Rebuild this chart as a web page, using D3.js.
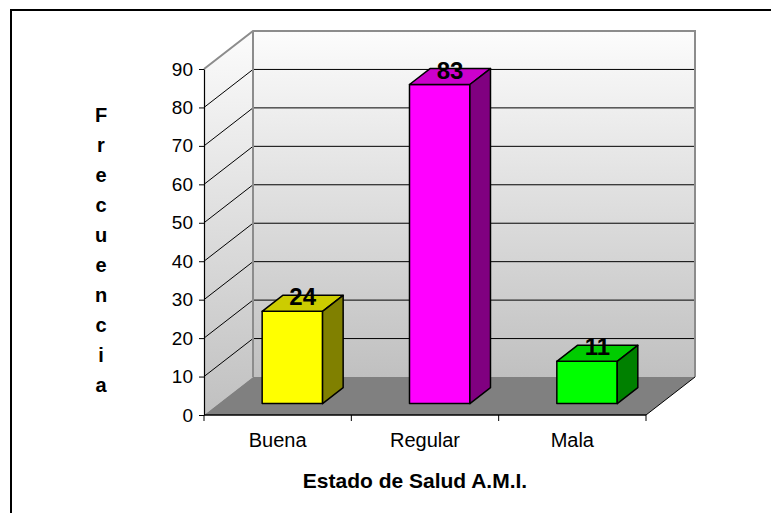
<!DOCTYPE html>
<html>
<head>
<meta charset="utf-8">
<script src="https://cdn.jsdelivr.net/npm/d3@7"></script>
<style>
  body { margin: 0; background: #fff; }
  text { font-family: "Liberation Sans", Arial, sans-serif; }
</style>
</head>
<body>
<svg id="chart" width="771" height="513"></svg>
<script>
// data
var categories = ["Buena", "Regular", "Mala"];
var values = [24, 83, 11];
var yTicks = [0, 10, 20, 30, 40, 50, 60, 70, 80, 90];
var frontColors = ["#ffff00", "#ff00ff", "#00ff00"];
var topColors = ["#cccc00", "#cc00cc", "#00cc00"];
var sideColors = ["#808000", "#800080", "#008000"];
var xTitle = "Estado de Salud A.M.I.";
var yTitle = "Frecuencia";

var svg = d3.select("#chart");

// front plane + depth vector (3d look)
var DX = 49, DY = -38;
var x = d3.scaleBand().domain(categories).range([204, 646]);
var y = d3.scaleLinear().domain([0, 90]).range([415, 69]);
var yMax = 90;

function pt(px, py, d) {
  return [px + d * DX, py + d * DY];
}
function poly(points) {
  return points.map(function(p) { return p[0] + "," + p[1]; }).join(" ");
}

// outer frame
svg.append("rect")
  .attr("x", 11).attr("y", 10)
  .attr("width", 800).attr("height", 600)
  .attr("fill", "none")
  .attr("stroke", "#000")
  .attr("stroke-width", 2);

// gradient for walls
var defs = svg.append("defs");
var grad = defs.append("linearGradient")
  .attr("id", "wallGrad")
  .attr("x1", 0).attr("y1", 0).attr("x2", 0).attr("y2", 1);
grad.append("stop").attr("offset", "0%").attr("stop-color", "#fcfcfc");
grad.append("stop").attr("offset", "100%").attr("stop-color", "#c0c0c0");

var x0 = x.range()[0], x1 = x.range()[1];

// back wall
svg.append("polygon")
  .attr("points", poly([pt(x0, y(yMax), 1), pt(x1, y(yMax), 1), pt(x1, y(0), 1), pt(x0, y(0), 1)]))
  .attr("fill", "url(#wallGrad)");

// side wall
svg.append("polygon")
  .attr("points", poly([pt(x0, y(yMax), 0), pt(x0, y(yMax), 1), pt(x0, y(0), 1), pt(x0, y(0), 0)]))
  .attr("fill", "url(#wallGrad)");

// floor
svg.append("polygon")
  .attr("points", poly([pt(x0, y(0), 0), pt(x1, y(0), 0), pt(x1, y(0), 1), pt(x0, y(0), 1)]))
  .attr("fill", "#808080");

// gridlines (side wall + back wall)
var grid = yTicks.filter(function(v) { return v > 0 && v < yMax; });
grid.forEach(function(v) {
  var a = pt(x0, y(v), 0), b = pt(x0, y(v), 1), c = pt(x1, y(v), 1);
  svg.append("polyline")
    .attr("points", poly([a, b, c]))
    .attr("fill", "none")
    .attr("stroke", "#000")
    .attr("stroke-width", 1);
});

// wall edges
svg.append("polyline")
  .attr("points", poly([pt(x0, y(yMax), 0), pt(x0, y(yMax), 1), pt(x1, y(yMax), 1), pt(x1, y(0), 1)]))
  .attr("fill", "none")
  .attr("stroke", "#8c8c8c")
  .attr("stroke-width", 2);
svg.append("line")
  .attr("x1", pt(x0, y(yMax), 1)[0]).attr("y1", pt(x0, y(yMax), 1)[1])
  .attr("x2", pt(x0, y(0), 1)[0]).attr("y2", pt(x0, y(0), 1)[1])
  .attr("stroke", "#8c8c8c")
  .attr("stroke-width", 2);
svg.append("line")
  .attr("x1", pt(x1, y(0), 0)[0]).attr("y1", pt(x1, y(0), 0)[1])
  .attr("x2", pt(x1, y(0), 1)[0]).attr("y2", pt(x1, y(0), 1)[1])
  .attr("stroke", "#000")
  .attr("stroke-width", 1);

// y axis
var yAxis = svg.append("g")
  .attr("transform", "translate(" + x0 + ",0)")
  .call(d3.axisLeft(y).tickValues(yTicks).tickSize(5).tickPadding(6).tickSizeOuter(0));
yAxis.select(".domain").attr("stroke", "#000").attr("stroke-width", 1.2);
yAxis.selectAll(".tick line").attr("stroke", "#000");
yAxis.selectAll("text")
  .attr("font-size", 19)
  .attr("font-family", "Liberation Sans, Arial, sans-serif")
  .attr("fill", "#000");

// x axis: line, boundary ticks, labels
svg.append("line")
  .attr("x1", x0).attr("y1", y(0)).attr("x2", x1).attr("y2", y(0))
  .attr("stroke", "#000").attr("stroke-width", 1.5);
var bounds = categories.map(function(c) { return x(c); }).concat([x1]);
svg.selectAll(".xtick").data(bounds).enter().append("line")
  .attr("class", "xtick")
  .attr("x1", function(d) { return d; }).attr("x2", function(d) { return d; })
  .attr("y1", y(0)).attr("y2", y(0) + 6)
  .attr("stroke", "#000");
svg.selectAll(".xlabel").data(categories).enter().append("text")
  .attr("class", "xlabel")
  .attr("x", function(d) { return x(d) + x.bandwidth() / 2; })
  .attr("y", 447)
  .attr("text-anchor", "middle")
  .attr("font-size", 20)
  .text(function(d) { return d; });

// bars
var bw = x.bandwidth() * 0.41;
var d0 = 0.3, d1 = 0.72;
categories.forEach(function(c, i) {
  var cx = x(c) + x.bandwidth() / 2;
  var l = cx - bw / 2, r = cx + bw / 2;
  var yb = y(0), yt = y(values[i]);
  var g = svg.append("g")
    .attr("stroke", "#000")
    .attr("stroke-width", 1.5)
    .attr("stroke-linejoin", "round");
  // front
  g.append("polygon")
    .attr("points", poly([pt(l, yt, d0), pt(r, yt, d0), pt(r, yb, d0), pt(l, yb, d0)]))
    .attr("fill", frontColors[i]);
  // top
  g.append("polygon")
    .attr("points", poly([pt(l, yt, d0), pt(l, yt, d1), pt(r, yt, d1), pt(r, yt, d0)]))
    .attr("fill", topColors[i]);
  // side
  g.append("polygon")
    .attr("points", poly([pt(r, yt, d0), pt(r, yt, d1), pt(r, yb, d1), pt(r, yb, d0)]))
    .attr("fill", sideColors[i]);

  // value label on top face
  var tc = pt(cx, yt, (d0 + d1) / 2);
  svg.append("text")
    .attr("x", tc[0])
    .attr("y", tc[1] + 2)
    .attr("text-anchor", "middle")
    .attr("font-size", 24)
    .attr("font-weight", "bold")
    .text(values[i]);
});

// axis titles
svg.append("text")
  .attr("x", 415)
  .attr("y", 488)
  .attr("text-anchor", "middle")
  .attr("font-size", 21)
  .attr("font-weight", "bold")
  .text(xTitle);

svg.append("text")
  .attr("text-anchor", "middle")
  .attr("font-size", 20)
  .attr("font-weight", "bold")
  .selectAll("tspan")
  .data(yTitle.split(""))
  .enter().append("tspan")
  .attr("x", 101)
  .attr("y", function(d, i) { return 122 + i * 30; })
  .text(function(d) { return d; });
</script>
</body>
</html>
